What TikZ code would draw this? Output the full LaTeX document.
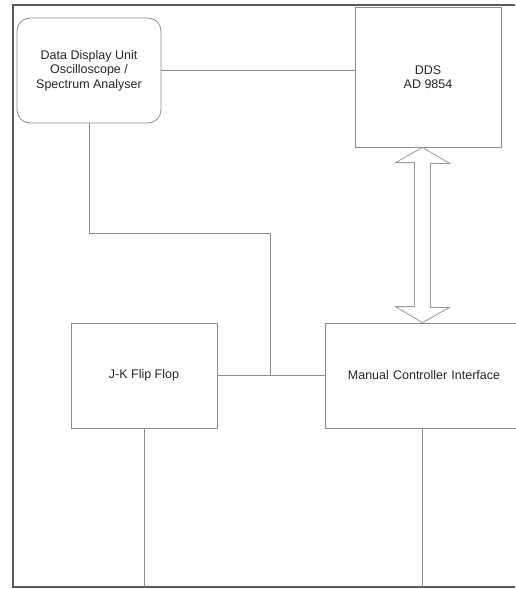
\documentclass[tikz,border=0pt]{standalone}
\usepackage{fontspec}
\setmainfont{Liberation Sans}
\begin{document}
\begin{tikzpicture}[x=1pt,y=-1pt,
  frameline/.style={draw=black!65,line width=1.2pt},
  link/.style={draw=black!45,line width=0.8pt},
  blockbox/.style={draw=black!45,line width=0.8pt,rectangle,inner sep=0pt,
    align=center,text=black!85,font=\fontsize{12.5}{14.5}\selectfont},
  bus/.style={draw=black!40,line width=0.8pt,fill=white}]
\useasboundingbox (0,0) rectangle (515,589);
\draw[frameline] (515,5) -- (13,5) -- (13,587) -- (515,587);
\node[blockbox,rounded corners=13pt,minimum width=144pt,minimum height=105pt] (disp) at (89,70.5)
  {Data Display Unit\\Oscilloscope /\\Spectrum Analyser};
\node[blockbox,minimum width=146pt,minimum height=140pt] (dds) at (428,77) {DDS\\AD 9854};
\node[blockbox,minimum width=146pt,minimum height=105pt] (jk) at (144,375.5) {J-K Flip Flop};
\node[blockbox,minimum width=195pt,minimum height=105pt,text width=190pt] (mci) at (422.5,375.5)
  {\hspace*{3pt}Manual Controller Interface};
\coordinate (bend) at (270,233);
\coordinate (join) at (270,375.5);
\coordinate (floor) at (0,587);
\path (mci.north |- dds.south) coordinate (atop);
\path (mci.north) coordinate (abot);
\draw[link] (disp.east) -- (disp.east -| dds.west);
\draw[link] (disp.south) |- (bend) -- (join);
\draw[link] (jk.east) -- (mci.west);
\draw[link] (jk.south) -- (jk.south |- floor);
\draw[link] (mci.south) -- (mci.south |- floor);
\draw[bus] (atop) -- ++(27,16) -- ++(-19,0) -- ++(0,144) -- ++(19,0) -- (abot)
  -- ++(-27,-16) -- ++(19,0) -- ++(0,-144) -- ++(-19,0) -- cycle;
\end{tikzpicture}
\end{document}
